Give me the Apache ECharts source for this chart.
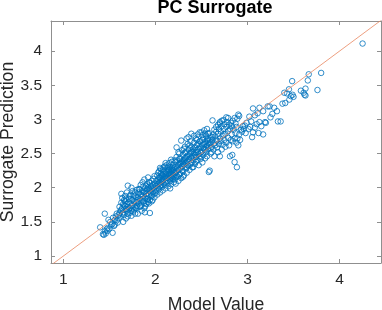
<!DOCTYPE html>
<html>
<head>
<meta charset="utf-8">
<script src="https://cdn.jsdelivr.net/npm/echarts@6/dist/echarts.min.js"></script>
<style>html,body{margin:0;padding:0;background:#fff}#c{width:382px;height:310px}</style>
</head>
<body>
<div id="c"></div>
<script>
const chartTitle = 'PC Surrogate';
const xAxisName = 'Model Value';
const yAxisName = 'Surrogate Prediction';
const xTicks = [1, 2, 3, 4];
const yTicks = [1, 1.5, 2, 2.5, 3, 3.5, 4];
const xRange = [0.866, 4.45];
const yRange = [0.898, 4.44];
const identityLine = [[0.866, 0.866], [4.45, 4.45]];

// [model value, surrogate prediction]
const samplesLow = [
[1.40,1.42],[1.43,1.32],[1.44,1.31],[1.46,1.33],[1.45,1.36],[1.47,1.39],[1.48,1.41],[1.45,1.62],[1.49,1.53],[1.52,1.45],
[1.535,1.34],[1.56,1.46],[1.55,1.44],[1.58,1.52],[1.60,1.55],[1.57,1.58],[1.59,1.49],[1.51,1.50],[1.53,1.47],[1.50,1.40],
[1.54,1.56],[1.58,1.62],[1.60,1.60],[1.56,1.53],[1.48,1.37]
];
const samplesB = [
[1.65,1.50],[1.63,1.91],[1.70,2.03],[1.62,1.66],[1.61,1.72],[1.64,1.70],[1.66,1.74],[1.63,1.78],[1.67,1.80],[1.65,1.64],
[1.68,1.69],[1.69,1.76],[1.70,1.62],[1.71,1.84],[1.72,1.70],[1.73,1.77],[1.74,1.66],[1.75,1.82],[1.76,1.74],[1.77,1.88],
[1.78,1.71],[1.79,1.79],[1.62,1.58],[1.66,1.60],[1.68,1.55],[1.70,1.58],[1.72,1.63],[1.74,1.59],[1.76,1.65],[1.78,1.62],
[1.61,1.63],[1.64,1.85],[1.67,1.88],[1.69,1.93],[1.71,1.79],[1.73,1.90],[1.75,1.95],[1.77,1.80],[1.79,1.86],[1.80,1.73],
[1.66,1.82],[1.68,1.84],[1.70,1.72],[1.72,1.88],[1.74,1.74],[1.76,1.90],[1.78,1.93],[1.80,1.97],[1.63,1.68],[1.65,1.76],
[1.67,1.73],[1.69,1.67],[1.71,1.68],[1.73,1.83],[1.75,1.70],[1.77,1.68],[1.79,1.70],[1.64,1.62],[1.74,2.00],[1.80,1.82]
];
const samplesC = [
[1.81,1.62],[1.885,1.64],[1.94,1.63],[1.85,1.66],[1.82,1.77],[1.83,1.84],[1.84,1.90],[1.85,1.81],[1.86,1.87],[1.87,1.93],
[1.88,1.78],[1.89,1.85],[1.90,1.91],[1.91,1.97],[1.92,1.84],[1.93,1.90],[1.94,1.96],[1.95,2.02],[1.96,1.88],[1.97,1.94],
[1.98,2.00],[1.99,2.06],[2.00,1.92],[1.81,1.86],[1.82,1.93],[1.83,1.98],[1.84,1.73],[1.86,1.95],[1.87,2.02],[1.88,1.70],
[1.89,1.99],[1.90,1.76],[1.91,2.05],[1.92,1.79],[1.93,2.08],[1.94,1.82],[1.95,1.87],[1.96,2.10],[1.97,1.82],[1.98,2.13],
[1.99,1.86],[1.81,1.80],[1.83,1.72],[1.85,1.75],[1.87,1.80],[1.89,1.73],[1.91,1.88],[1.93,1.77],[1.95,1.93],[1.97,2.04],
[1.99,1.96],[1.82,1.98],[1.84,2.04],[1.86,2.08],[1.88,2.12],[1.90,2.03],[1.92,2.15],[1.94,2.07],[1.96,1.98],[1.98,1.91],
[2.00,2.02],[1.85,1.89],[1.88,1.93],[1.91,1.83],[1.93,1.98],[1.96,1.80],[1.99,2.17],[1.87,1.84],[1.90,1.95],[1.92,2.00]
];
const samplesD = [
[2.01,1.95],[2.02,2.05],[2.03,2.12],[2.04,1.98],[2.05,2.08],[2.06,2.16],[2.07,2.01],[2.08,2.11],[2.09,2.20],[2.10,2.04],
[2.11,2.14],[2.12,2.23],[2.13,2.07],[2.14,2.17],[2.15,2.26],[2.16,2.10],[2.17,2.20],[2.18,2.29],[2.19,2.13],[2.20,2.23],
[2.01,2.10],[2.02,1.90],[2.03,2.22],[2.04,2.15],[2.05,1.93],[2.06,2.27],[2.07,2.19],[2.08,1.96],[2.09,2.30],[2.10,2.24],
[2.11,1.99],[2.12,2.33],[2.13,2.28],[2.14,2.02],[2.15,2.36],[2.16,2.30],[2.17,2.05],[2.18,2.38],[2.19,2.33],[2.20,2.08],
[2.01,2.03],[2.03,2.00],[2.05,2.02],[2.07,2.09],[2.09,2.06],[2.11,2.08],[2.13,2.14],[2.15,2.12],[2.17,2.15],[2.19,2.19],
[2.02,2.18],[2.04,2.24],[2.06,2.21],[2.08,2.26],[2.10,2.31],[2.12,2.18],[2.14,2.25],[2.16,2.21],[2.18,2.24],[2.20,2.28],
[2.03,2.06],[2.05,2.14],[2.07,2.12],[2.09,2.13],[2.11,2.21],[2.13,2.20],[2.15,2.19],[2.17,2.27],[2.19,2.26],[2.04,2.08],
[2.06,2.04],[2.08,2.17],[2.10,2.16],[2.12,2.10],[2.14,2.31],[2.16,2.16],[2.18,2.14],[2.20,2.17],[2.05,2.29],[2.11,2.36],
[2.17,2.41],[2.16,1.99]
];
const samplesE = [
[2.21,2.12],[2.22,2.22],[2.23,2.31],[2.24,2.16],[2.25,2.26],[2.26,2.35],[2.27,2.20],[2.28,2.30],[2.29,2.39],[2.30,2.24],
[2.31,2.34],[2.32,2.43],[2.33,2.28],[2.34,2.38],[2.35,2.47],[2.36,2.32],[2.37,2.42],[2.38,2.51],[2.39,2.36],[2.40,2.46],
[2.21,2.30],[2.22,2.06],[2.23,2.45],[2.24,2.40],[2.25,2.10],[2.26,2.50],[2.27,2.43],[2.28,2.14],[2.29,2.55],[2.30,2.48],
[2.31,2.18],[2.32,2.60],[2.33,2.52],[2.34,2.22],[2.35,2.64],[2.36,2.56],[2.37,2.26],[2.38,2.68],[2.39,2.60],[2.40,2.30],
[2.21,2.21],[2.23,2.18],[2.25,2.33],[2.27,2.28],[2.29,2.25],[2.31,2.40],[2.33,2.36],[2.35,2.33],[2.37,2.49],[2.39,2.44],
[2.22,2.37],[2.24,2.28],[2.26,2.42],[2.28,2.37],[2.30,2.35],[2.32,2.51],[2.34,2.45],[2.36,2.41],[2.38,2.58],[2.40,2.53],
[2.21,2.40],[2.23,2.24],[2.25,2.52],[2.27,2.36],[2.29,2.32],[2.31,2.57],[2.33,2.43],[2.35,2.39],[2.37,2.62],[2.39,2.52],
[2.22,2.15],[2.26,2.19],[2.30,2.16],[2.34,2.30],[2.38,2.34],[2.23,2.59],[2.28,2.69],[2.34,2.72],[2.39,2.79],[2.36,2.74]
];
const samplesF = [
[2.41,2.40],[2.42,2.50],[2.43,2.59],[2.44,2.45],[2.45,2.55],[2.46,2.64],[2.47,2.49],[2.48,2.59],[2.49,2.68],[2.50,2.53],
[2.51,2.63],[2.52,2.72],[2.53,2.57],[2.54,2.67],[2.55,2.76],[2.56,2.61],[2.57,2.71],[2.58,2.80],[2.59,2.65],[2.60,2.75],
[2.41,2.30],[2.42,2.66],[2.43,2.35],[2.44,2.72],[2.45,2.40],[2.46,2.78],[2.47,2.33],[2.48,2.81],[2.49,2.42],[2.50,2.81],
[2.51,2.37],[2.52,2.48],[2.53,2.84],[2.54,2.43],[2.55,2.52],[2.56,2.86],[2.57,2.79],[2.58,2.23],[2.59,2.25],[2.60,2.50],
[2.41,2.56],[2.43,2.48],[2.45,2.62],[2.47,2.57],[2.49,2.51],[2.51,2.70],[2.53,2.64],[2.55,2.59],[2.57,2.56],[2.59,2.70],
[2.42,2.44],[2.44,2.38],[2.46,2.52],[2.48,2.46],[2.50,2.45],[2.52,2.58],[2.54,2.55],[2.56,2.46],[2.58,2.62],[2.60,2.66],
[2.42,2.76],[2.45,2.70],[2.48,2.68],[2.51,2.77],[2.54,2.79],[2.57,2.66],[2.60,2.58],[2.44,2.52],[2.50,2.60],[2.56,2.69]
];
const samplesG = [
[2.62,2.985],[2.62,2.74],[2.66,2.89],[2.70,2.94],[2.77,3.03],[2.70,2.96],[2.79,3.02],[2.61,2.60],[2.62,2.70],[2.63,2.78],
[2.64,2.65],[2.65,2.75],[2.66,2.82],[2.67,2.69],[2.68,2.79],[2.69,2.86],[2.70,2.72],[2.71,2.82],[2.72,2.90],[2.73,2.76],
[2.74,2.86],[2.75,2.93],[2.76,2.79],[2.77,2.89],[2.78,2.96],[2.79,2.83],[2.80,2.92],[2.61,2.52],[2.63,2.56],[2.65,2.62],
[2.67,2.59],[2.69,2.64],[2.70,2.46],[2.71,2.68],[2.73,2.63],[2.75,2.70],[2.77,2.66],[2.79,2.73],[2.64,2.46],[2.68,2.52],
[2.72,2.56],[2.76,2.60],[2.80,2.62],[2.64,2.85],[2.68,2.92],[2.72,2.98],[2.74,2.99],[2.66,2.70],[2.74,2.78]
];
const samplesH = [
[2.81,2.46],[2.835,2.48],[2.86,2.375],[2.885,2.30],[2.88,2.89],[2.90,3.07],[2.91,3.05],[2.89,3.01],[2.82,2.95],[2.84,2.98],
[2.86,3.02],[2.83,2.78],[2.85,2.85],[2.87,2.80],[2.89,2.72],[2.91,2.78],[2.93,2.85],[2.95,2.90],[2.97,2.91],[2.99,2.95],
[2.82,2.70],[2.84,2.68],[2.86,2.72],[2.88,2.66],[2.90,2.62],[2.92,2.70],[2.94,2.82],[2.96,2.86],[2.98,2.80],[2.83,2.90],
[2.87,2.94],[2.81,2.86]
];
const samplesHigh = [
[3.01,2.86],[3.05,2.74],[3.06,2.81],[3.12,2.80],[3.17,2.78],[3.20,2.95],[3.25,3.03],[3.06,3.16],[3.13,3.17],[3.22,3.19],
[3.24,3.19],[3.29,3.17],[3.17,3.12],[3.11,3.09],[3.08,3.06],[3.33,2.97],[3.36,2.97],[3.13,2.96],[3.19,2.96],[3.03,2.89],
[3.08,2.88],[3.15,2.90],[3.10,2.93],[3.04,2.97],[3.27,3.08],[3.32,3.12],[3.38,3.23],[3.41,3.24],[3.02,3.04],
[3.455,3.29],[3.50,3.33],[3.49,3.36],[3.40,3.39],[3.43,3.38],[3.45,3.44],[3.62,3.36],[3.63,3.35],[3.58,3.42],[3.63,3.45],
[3.76,3.43],[3.485,3.56],[3.655,3.57],[3.665,3.66],[3.80,3.68],[4.25,4.11],[3.47,3.34],[3.61,3.39]
];
const samples = [].concat(samplesLow, samplesB, samplesC, samplesD, samplesE, samplesF, samplesG, samplesH, samplesHigh);

const FONT = '"Liberation Sans", Arial, Helvetica, sans-serif';
const AXIS_COLOR = '#8f8f8f';
const TEXT_COLOR = '#262626';

function xAx(pos, showLabel) {
  return {
    type: 'value', position: pos, min: xRange[0], max: xRange[1],
    axisLine: { show: true, onZero: false, lineStyle: { color: AXIS_COLOR, width: 1 } },
    axisTick: { show: true, inside: true, length: 4, customValues: xTicks, lineStyle: { color: AXIS_COLOR } },
    axisLabel: { show: showLabel, customValues: xTicks, fontSize: 15.5, color: TEXT_COLOR, fontFamily: FONT, margin: 9 },
    splitLine: { show: false },
    name: showLabel ? xAxisName : '', nameLocation: 'middle', nameGap: 33, nameMoveOverlap: false,
    nameTextStyle: { fontSize: 17.6, color: TEXT_COLOR, fontFamily: FONT }
  };
}
function yAx(pos, showLabel) {
  return {
    type: 'value', position: pos, min: yRange[0], max: yRange[1],
    axisLine: { show: true, onZero: false, lineStyle: { color: AXIS_COLOR, width: 1 } },
    axisTick: { show: true, inside: true, length: 4, customValues: yTicks, lineStyle: { color: AXIS_COLOR } },
    axisLabel: { show: showLabel, customValues: yTicks, fontSize: 15.5, color: TEXT_COLOR, fontFamily: FONT, margin: 9 },
    splitLine: { show: false },
    name: showLabel ? yAxisName : '', nameLocation: 'middle', nameGap: 34, nameRotate: 90, nameMoveOverlap: false,
    nameTextStyle: { fontSize: 17.6, color: TEXT_COLOR, fontFamily: FONT }
  };
}

const chart = echarts.init(document.getElementById('c'), null, { renderer: 'canvas' });
chart.setOption({
  animation: false,
  backgroundColor: '#ffffff',
  grid: { left: 51, top: 21, width: 330, height: 242, containLabel: false, outerBoundsMode: 'none' },
  graphic: [{
    type: 'text', x: 215, y: 8.5,
    style: { text: chartTitle, x: 0, y: 0, textAlign: 'center', textVerticalAlign: 'middle',
      font: 'bold 18px ' + FONT, fill: '#000000' }
  }],
  xAxis: [xAx('bottom', true), xAx('top', false)],
  yAxis: [yAx('left', true), yAx('right', false)],
  series: [
    {
      type: 'scatter', xAxisIndex: 0, yAxisIndex: 0, data: samples,
      symbol: 'circle', symbolSize: 5.5,
      itemStyle: { color: 'rgba(0,0,0,0)', borderColor: '#0072BD', borderWidth: 1 },
      z: 2
    },
    {
      type: 'line', xAxisIndex: 0, yAxisIndex: 0, data: identityLine,
      symbol: 'none', clip: true,
      lineStyle: { color: '#E9875F', width: 0.8 },
      z: 3
    }
  ]
});
</script>
</body>
</html>
